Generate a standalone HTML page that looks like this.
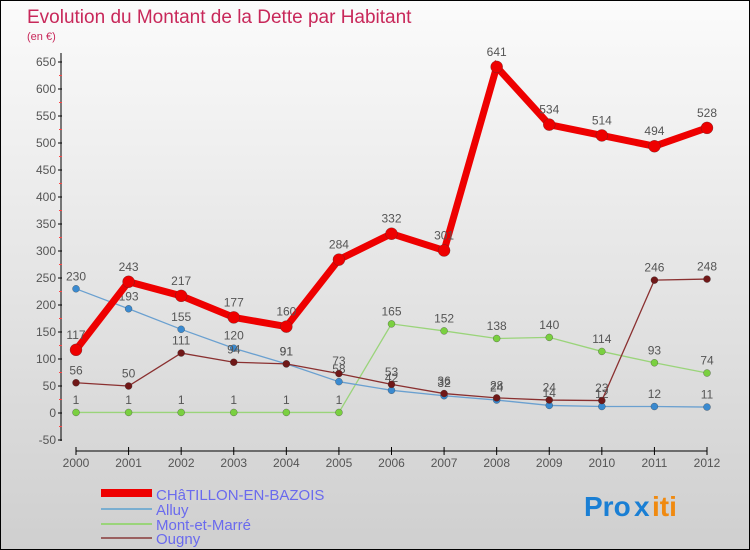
<!DOCTYPE html>
<html><head><meta charset="utf-8"><style>
body{margin:0}
#c{width:748px;height:548px;border:1px solid #000;background:linear-gradient(#fbfbfb,#cfcfcf);position:relative;overflow:hidden;font-family:"Liberation Sans",sans-serif}
</style></head><body>
<div id="c">
<svg id="s" width="748" height="548" style="position:absolute;left:0;top:0">
<text x="26" y="22" font-size="19" fill="#c8285a">Evolution du Montant de la Dette par Habitant</text>
<text x="26" y="39" font-size="11" fill="#c8285a">(en €)</text>
<g id="axes"></g><g id="series"></g>
<g>
<rect x="100" y="488" width="51" height="8" fill="#ee0000"/>
<text x="155" y="499" font-size="15" fill="#6a6aee">CHâTILLON-EN-BAZOIS</text>
<rect x="100" y="507" width="51" height="2" fill="#7aaed0"/>
<text x="155" y="514" font-size="15" fill="#6a6aee">Alluy</text>
<rect x="100" y="522" width="51" height="2" fill="#9ad47a"/>
<text x="155" y="529" font-size="15" fill="#6a6aee">Mont-et-Marré</text>
<rect x="100" y="536" width="51" height="2" fill="#9a6060"/>
<text x="155" y="543" font-size="15" fill="#6a6aee">Ougny</text>
</g>
<g font-size="28" font-weight="bold">
<text x="583" y="515" fill="#1a7fd4">Pro</text><text x="633" y="515" fill="#1a7fd4">x</text><text x="651" y="515" fill="#f08a10">iti</text>
</g>
</svg>
</div>
<script>
const years=[2000,2001,2002,2003,2004,2005,2006,2007,2008,2009,2010,2011,2012];
const yTicks=[650,600,550,500,450,400,350,300,250,200,150,100,50,0,-50];
const chatillon=[117,243,217,177,160,284,332,301,641,534,514,494,528];
const alluy=[230,193,155,120,91,58,42,32,24,14,12,12,11];
const mont=[1,1,1,1,1,1,165,152,138,140,114,93,74];
const ougny=[56,50,111,94,91,73,53,36,28,24,23,246,248];
const NS='http://www.w3.org/2000/svg';
const X=i=>75+i*(706-75)/(years.length-1);
const Y=v=>412-v*27/50;
function mk(t,a,p){const e=document.createElementNS(NS,t);for(const k in a)e.setAttribute(k,a[k]);p.appendChild(e);return e;}
const ax=document.getElementById('axes'),sg=document.getElementById('series');
const yl=mk('line',{x1:60,y1:52,x2:60,y2:440,stroke:'#000'},ax);


yTicks.forEach(v=>{
 mk('line',{x1:57,x2:61,y1:Y(v),y2:Y(v),stroke:'#000'},ax);
 if(v>-50)mk('line',{x1:58,x2:61,y1:Y(v-25),y2:Y(v-25),stroke:'#f44'},ax);
 const t=mk('text',{x:55,y:Y(v)+4,'font-size':12,fill:'#555','text-anchor':'end'},ax);t.textContent=v;
 
 
});
const xl=mk('line',{x1:75,y1:450,x2:706,y2:450,stroke:'#000'},ax);


years.forEach((y,i)=>{
 mk('line',{x1:X(i),x2:X(i),y1:446,y2:454,stroke:'#000'},ax);
 const t=mk('text',{x:X(i),y:466,'font-size':12,fill:'#555','text-anchor':'middle'},ax);t.textContent=y;
 
 
});
function series(d,name,col,dot,w,r){
 const g=mk('g',{},sg);
 
 
 mk('polyline',{points:d.map((v,i)=>X(i)+','+Y(v)).join(' '),fill:'none',stroke:col,'stroke-width':w},g);
 d.forEach((v,i)=>{
  const c=mk('circle',{cx:X(i),cy:Y(v),r:r,fill:dot,stroke:'#333','stroke-width':0.3},g);
  
  
  const t=mk('text',{x:X(i),y:Y(v)-(r+5),'font-size':12,fill:'#555','text-anchor':'middle'},g);t.textContent=v;
  
  
 });
}
series(mont,'mont-et-marre','#9ad47a','#7ad040',1.3,3.5);
series(alluy,'alluy','#6aa0d0','#3a8ad0',1.3,3.5);
series(ougny,'ougny','#8a3030','#701818',1.3,3.5);
series(chatillon,'chatillon','#ee0000','#ee0000',7,6);
</script>
</body></html>
